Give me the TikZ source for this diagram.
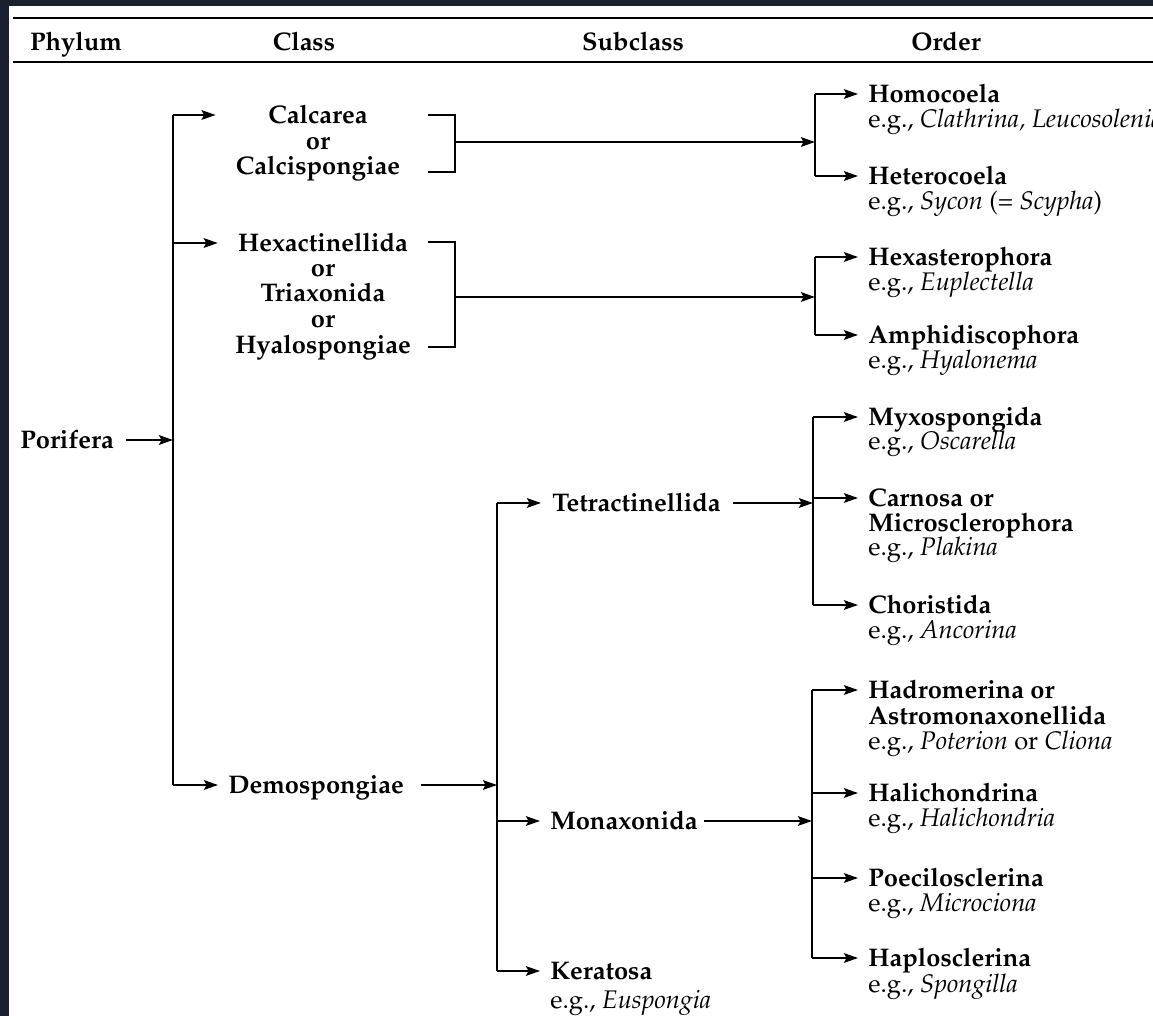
\documentclass[tikz,border=0pt]{standalone}
\usepackage[T1]{fontenc}
\usepackage{mathpazo}
\usetikzlibrary{arrows.meta}
\definecolor{framecol}{RGB}{27,32,46}
\newcommand{\figfont}{\fontsize{14.5}{17}\selectfont}
\begin{document}
\begin{tikzpicture}[x=0.02cm,y=-0.02cm,
  ln/.style={line width=1.1pt},
  arr/.style={line width=1.1pt,-{Stealth[length=8pt,width=5.5pt,inset=1.5pt]}},
  hd/.style={font=\figfont\bfseries, inner sep=0pt, text height=10pt, text depth=0pt},
  tx/.style={hd, anchor=west},
  ex/.style={font=\figfont, inner sep=0pt, text height=10pt, text depth=0pt, anchor=west},
  cl/.style={hd, anchor=center}]
\useasboundingbox (0,0) rectangle (1153,1016);
\clip (0,0) rectangle (1153,1016);
\fill[framecol] (0,0) rectangle (1153,1016);
\fill[white] (9,6) rectangle (1153,1016);
% header rules
\draw[line width=1.3pt] (13,18) -- (1153,18);
\draw[line width=1.3pt] (13,62) -- (1153,62);
\node[hd] (hPhy) at (76,42) {Phylum};
\node[hd] (hCla) at (304,42) {Class};
\node[hd] (hSub) at (633,42) {Subclass};
\node[hd] (hOrd) at (946,42) {Order};
% vertical bar positions
\coordinate (v0) at (173,0);
\coordinate (v1) at (815,0);
\coordinate (v2) at (815,0);
\coordinate (v3) at (497,0);
\coordinate (v4) at (813,0);
\coordinate (v5) at (812,0);
% phylum
\node[tx] (por) at (20,440) {Porifera};
% classes
\node[cl] (calA) at (318,115) {Calcarea};
\node[cl] (calO) at (318,141) {or};
\node[cl] (calB) at (318,166) {Calcispongiae};
\node[cl] (hexA) at (323,243) {Hexactinellida};
\node[cl] (hexO1) at (323,268) {or};
\node[cl] (hexB) at (323,293) {Triaxonida};
\node[cl] (hexO2) at (323,319) {or};
\node[cl] (hexC) at (323,345) {Hyalospongiae};
\node[tx] (demo) at (228,785) {Demospongiae};
% subclasses
\node[tx] (tetra) at (552,503) {Tetractinellida};
\node[tx] (mona) at (550,821) {Monaxonida};
\node[tx] (kera) at (550,971) {Keratosa};
\node[ex] (keraE) at (550,1000) {e.g., \textit{Euspongia}};
% orders: Calcarea
\node[tx] (homo) at (868,94) {Homocoela};
\node[ex] (homoE) at (868,119) {e.g., \textit{Clathrina, Leucosolenia}};
\node[tx] (hete) at (868,176) {Heterocoela};
\node[ex] (heteE) at (868,201) {e.g., \textit{Sycon} (= \textit{Scypha})};
% orders: Hexactinellida
\node[tx] (hexa) at (868,257) {Hexasterophora};
\node[ex] (hexaE) at (868,282) {e.g., \textit{Euplectella}};
\node[tx] (amph) at (868,335) {Amphidiscophora};
\node[ex] (amphE) at (868,360) {e.g., \textit{Hyalonema}};
% orders: Tetractinellida
\node[tx] (myxo) at (868,417) {Myxospongida};
\node[ex] (myxoE) at (868,441) {e.g., \textit{Oscarella}};
\node[tx] (carn) at (868,498) {Carnosa or};
\node[tx] (carnB) at (868,523) {Microsclerophora};
\node[ex] (carnE) at (868,547) {e.g., \textit{Plakina}};
\node[tx] (chor) at (868,605) {Choristida};
\node[ex] (chorE) at (868,630) {e.g., \textit{Ancorina}};
% orders: Monaxonida
\node[tx] (hadr) at (868,690) {Hadromerina or};
\node[tx] (hadrB) at (868,716) {Astromonaxonellida};
\node[ex] (hadrE) at (868,741) {e.g., \textit{Poterion} or \textit{Cliona}};
\node[tx] (hali) at (868,793) {Halichondrina};
\node[ex] (haliE) at (868,818) {e.g., \textit{Halichondria}};
\node[tx] (poec) at (868,878) {Poecilosclerina};
\node[ex] (poecE) at (868,903) {e.g., \textit{Microciona}};
\node[tx] (hapl) at (868,958) {Haplosclerina};
\node[ex] (haplE) at (868,984) {e.g., \textit{Spongilla}};
% phylum -> classes
\draw[arr, shorten <=0.24cm] (por.east) -- (v0 |- por);
\draw[ln] (v0 |- calA) -- (v0 |- demo);
\draw[arr, shorten >=0.4cm] (v0 |- calA) -- (calB.west |- calA);
\draw[arr, shorten >=0.4cm] (v0 |- hexA) -- (hexA.west);
\draw[arr, shorten >=0.2cm] (v0 |- demo) -- (demo.west);
% Calcarea bracket and orders
\coordinate (b1t) at (428,115);
\coordinate (b1b) at (428,172);
\coordinate (b1m) at (455,142);
\draw[ln] (b1t) -- (b1m |- b1t) -- (b1m |- b1b) -- (b1b);
\draw[arr] (b1m) -- (v1 |- b1m);
\draw[ln] (v1 |- homo) -- (v1 |- hete);
\draw[arr, shorten >=0.2cm] (v1 |- homo) -- (homo.west);
\draw[arr, shorten >=0.2cm] (v1 |- hete) -- (hete.west);
% Hexactinellida bracket and orders
\coordinate (b2t) at (428,242);
\coordinate (b2b) at (428,347);
\coordinate (b2m) at (455,297);
\draw[ln] (b2t) -- (b2m |- b2t) -- (b2m |- b2b) -- (b2b);
\draw[arr] (b2m) -- (v2 |- b2m);
\draw[ln] (v2 |- hexa) -- (v2 |- amph);
\draw[arr, shorten >=0.2cm] (v2 |- hexa) -- (hexa.west);
\draw[arr, shorten >=0.2cm] (v2 |- amph) -- (amph.west);
% Demospongiae -> subclasses
\draw[arr, shorten <=0.34cm] (demo.east) -- (v3 |- demo);
\draw[ln] (v3 |- tetra) -- (v3 |- kera);
\draw[arr, shorten >=0.22cm] (v3 |- tetra) -- (tetra.west);
\draw[arr, shorten >=0.2cm] (v3 |- mona) -- (mona.west);
\draw[arr, shorten >=0.2cm] (v3 |- kera) -- (kera.west);
% Tetractinellida -> orders
\draw[arr, shorten <=0.24cm] (tetra.east) -- (v4 |- tetra);
\draw[ln] (v4 |- myxo) -- (v4 |- chor);
\draw[arr, shorten >=0.2cm] (v4 |- myxo) -- (myxo.west);
\draw[arr, shorten >=0.2cm] (v4 |- carn) -- (carn.west);
\draw[arr, shorten >=0.2cm] (v4 |- chor) -- (chor.west);
% Monaxonida -> orders
\draw[arr, shorten <=0.12cm] (mona.east) -- (v5 |- mona);
\draw[ln] (v5 |- hadr) -- (v5 |- hapl);
\draw[arr, shorten >=0.2cm] (v5 |- hadr) -- (hadr.west);
\draw[arr, shorten >=0.2cm] (v5 |- hali) -- (hali.west);
\draw[arr, shorten >=0.2cm] (v5 |- poec) -- (poec.west);
\draw[arr, shorten >=0.2cm] (v5 |- hapl) -- (hapl.west);
\end{tikzpicture}
\end{document}
